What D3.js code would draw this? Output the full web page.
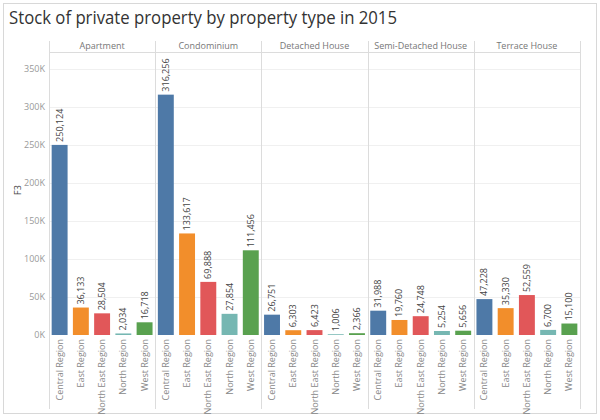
<!DOCTYPE html>
<html><head><meta charset="utf-8">
<script src="https://cdn.jsdelivr.net/npm/d3@7"></script>
<style>body{margin:0;background:#fff;} svg{display:block;}</style>
</head><body><svg id="c" width="600" height="420"></svg>
<script>
const title = "Stock of private property by property type in 2015";
const propertyTypes = ["Apartment","Condominium","Detached House","Semi-Detached House","Terrace House"];
const regions = ["Central Region","East Region","North East Region","North Region","West Region"];
const apartment = [250124, 36133, 28504, 2034, 16718];
const condominium = [316256, 133617, 69888, 27854, 111456];
const detached = [26751, 6303, 6423, 1006, 2366];
const semiDetached = [31988, 19760, 24748, 5254, 5656];
const terrace = [47228, 35330, 52559, 6700, 15100];
const yTicks = [0,50000,100000,150000,200000,250000,300000,350000];
const yLabel = "F3";
const regionColors = ["#4e79a7","#f28e2b","#e15759","#76b7b2","#59a14f"];

const seriesByType = [apartment, condominium, detached, semiDetached, terrace];
const svg = d3.select("#c");
const font = "'Open Sans', sans-serif";

// frame
svg.append("rect").attr("x",3.5).attr("y",3.5).attr("width",593).attr("height",410)
  .attr("fill","none").attr("stroke","#d8d8d8");

svg.append("text").attr("x",9).attr("y",24).attr("font-family",font).attr("font-size",18)
  .attr("textLength",388).attr("lengthAdjust","spacingAndGlyphs")
  .attr("fill","#333").text(title);

const left = 49, right = 580, headerTop = 41, headerBottom = 52, base = 335, bottom = 409;
const fx = d3.scaleBand().domain(propertyTypes).range([left,right]);
const y = d3.scaleLinear().domain([0,350000]).range([base,69]);
const x = d3.scaleBand().domain(regions).range([0,fx.bandwidth()]).paddingInner(0.25).paddingOuter(0.125);
const color = d3.scaleOrdinal().domain(regions).range(regionColors);

// gridlines
svg.append("g").selectAll("line").data(yTicks.slice(1)).join("line")
  .attr("x1",left).attr("x2",right).attr("y1",d=>Math.round(y(d))+0.5).attr("y2",d=>Math.round(y(d))+0.5)
  .attr("stroke","#f0f0f0");

// y axis
const yAxis = svg.append("g").attr("transform",`translate(${left},0)`)
  .call(d3.axisLeft(y).tickValues(yTicks).tickSize(0).tickPadding(4).tickFormat(d=>(d/1000)+"K"));
yAxis.select(".domain").remove();
yAxis.selectAll("text").attr("font-family",font).attr("font-size",9).attr("fill","#999");

svg.append("text").attr("transform","translate(21,190) rotate(-90)").attr("text-anchor","middle")
  .attr("font-family",font).attr("font-size",9).attr("fill","#444").text(yLabel);

// header line and dividers
svg.append("line").attr("x1",left).attr("x2",right).attr("y1",headerBottom+0.5).attr("y2",headerBottom+0.5).attr("stroke","#dcdcdc");
svg.append("g").selectAll("line").data(propertyTypes.concat(["end"])).join("line")
  .attr("x1",(d,i)=> Math.round(i<5?fx(d):right)+0.5).attr("x2",(d,i)=> Math.round(i<5?fx(d):right)+0.5)
  .attr("y1",headerTop).attr("y2",bottom).attr("stroke","#dcdcdc");

propertyTypes.forEach((t,ti)=>{
  const g = svg.append("g").attr("transform",`translate(${fx(t)},0)`);
  g.append("text").attr("x",fx.bandwidth()/2).attr("y",49).attr("text-anchor","middle")
    .attr("font-family",font).attr("font-size",9).attr("fill","#777").text(t);
  const vals = seriesByType[ti];
  g.selectAll("rect").data(regions).join("rect")
    .attr("x",r=>x(r)).attr("width",x.bandwidth())
    .attr("y",(r,i)=>y(vals[i])).attr("height",(r,i)=>base-y(vals[i]))
    .attr("fill",r=>color(r));
  g.selectAll("text.v").data(regions).join("text").attr("class","v")
    .attr("transform",(r,i)=>`translate(${x(r)+x.bandwidth()/2+3},${y(vals[i])-3}) rotate(-90)`)
    .attr("font-family",font).attr("font-size",9).attr("fill","#444")
    .text((r,i)=>d3.format(",")(vals[i]));
  g.selectAll("text.c").data(regions).join("text").attr("class","c")
    .attr("transform",r=>`translate(${x(r)+x.bandwidth()/2+3},339) rotate(-90)`)
    .attr("text-anchor","end")
    .attr("font-family",font).attr("font-size",9).attr("fill","#888")
    .text(r=>r);
});
</script></body></html>
